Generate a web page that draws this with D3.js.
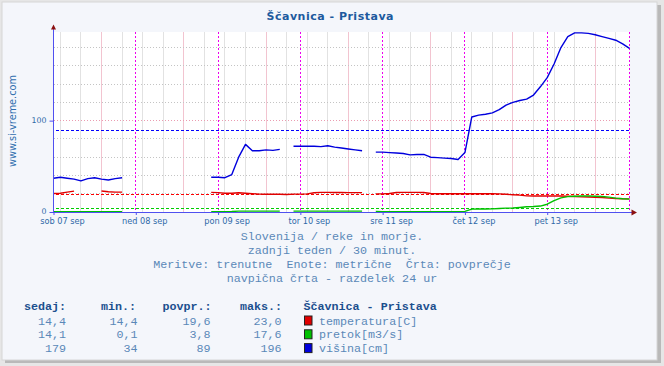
<!DOCTYPE html>
<meta charset="utf-8">
<style>

body {
  margin: 0;
}

text {
  font-family: "DejaVu Sans", sans-serif;
}

text.mono {
  font-family: "Liberation Mono", monospace;
  font-size: 11.7px;
  white-space: pre;
}

.tick line {
  stroke: #5050f0;
}

.tick text {
  fill: #2f6aa8;
}

</style>
<svg width="664" height="366"></svg>
<script src="https://cdn.jsdelivr.net/npm/d3@7"></script>
<script>

// one sample every 2 hours over the last week (0..168 h), null = no data
var hours = d3.range(0, 169, 2);

var visina = [37, 38, 37, 36, 34, 36.5, 37.5, 36, 35, 36.5, 37.5,
  null, null, null, null, null, null, null, null, null, null, null, null,
  38, 38, 37.5, 41, 60, 74, 67, 67, 68, 67.5, 68.5,
  null,
  72, 72, 72, 72, 71.5, 72.5, 71, 70, 69, 68, 67,
  null,
  65.5, 65.5, 65, 64.5, 64, 62.5, 63, 63, 60, 59.5, 59, 58.5, 57.5,
  65, 104, 106, 107, 108.5, 112, 117, 120, 122, 123.5, 128, 137, 147, 162,
  180, 192, 196, 196, 195.5, 194, 192, 190, 188, 184, 179];

var temperatura = [20.3, 20.5, 21.8, 22.8, null, null, null, 23, 22.2, 21.8, 21.8,
  null, null, null, null, null, null, null, null, null, null, null, null,
  21.5, 21.2, 20.5, 20.6, 21, 20.5, 20, 19.6, 19.5, 19.5, 19.5,
  19.2,
  19.6, 19.6, 19.8, 21, 21.5, 21.5, 21.4, 21.3, 21.2, 21.2, 21.2,
  null,
  19.8, 19.8, 20.2, 21.3, 21.5, 21.5, 21.5, 21.3, 20.2, 20, 20, 20, 20,
  20, 20, 20, 20, 20, 19.8, 19.5, 18.8, 18.5, 17.6, 17.5, 17.5, 17.5, 17.5,
  17.5, 17.3, 17, 16.5, 16.4, 16.2, 15.8, 15.2, 14.8, 14.5, 14.4];

var pretok = [0.2, 0.2, 0.2, 0.2, 0.2, 0.2, 0.2, 0.2, 0.2, 0.2, 0.2,
  null, null, null, null, null, null, null, null, null, null, null, null,
  0.3, 0.3, 0.4, 0.6, 1, 1, 1, 1, 1, 1, 1,
  null,
  1, 1, 1, 1, 1, 1, 1, 1, 1, 1, 1,
  null,
  0.5, 0.4, 0.4, 0.4, 0.4, 0.4, 0.4, 0.4, 0.4, 0.4, 0.4, 0.4, 0.4,
  0.6, 3.2, 3.3, 3.3, 3.4, 3.8, 4.2, 4.3, 5, 5.8, 6, 6.5, 8.5, 12.5,
  15.5, 16.8, 17.2, 17.5, 17.6, 17.3, 17, 16.3, 15.2, 14.5, 14.1];

var dayLabels = ["sob 07 sep", "ned 08 sep", "pon 09 sep", "tor 10 sep",
                 "sre 11 sep", "čet 12 sep", "pet 13 sep"];

var seriesNames = ["temperatura[C]", "pretok[m3/s]", "višina[cm]"];
var seriesColors = ["#e00000", "#00c000", "#0000dd"];
var averages = [19.6, 3.8, 89];
var nowVals = ["14,4", "14,1", "179"];
var minVals = ["14,4", "0,1", "34"];
var avgVals = ["19,6", "3,8", "89"];
var maxVals = ["23,0", "17,6", "196"];

var infoLines = ["Slovenija / reke in morje.",
                 "zadnji teden / 30 minut.",
                 "Meritve: trenutne  Enote: metrične  Črta: povprečje",
                 "navpična črta - razdelek 24 ur"];

var svg = d3.select("svg");

// frame
svg.append("rect").attr("width", 664).attr("height", 366).attr("fill", "#e6e6e6");
svg.append("rect").attr("x", 5).attr("y", 5).attr("width", 656).attr("height", 358).attr("fill", "#b9b9b9");
svg.append("rect").attr("x", 2).attr("y", 2).attr("width", 655).attr("height", 358)
    .attr("fill", "#f4f6fb").attr("stroke", "#d6d6d6");

var x = d3.scaleLinear().domain([0, 168]).range([53.5, 629.5]);
var y = d3.scaleLinear().domain([0, 197]).range([212, 32]);

function px(v) { return Math.round(v - 0.5) + 0.5; }

svg.append("rect")
    .attr("x", x(0)).attr("y", y(197))
    .attr("width", x(168) - x(0)).attr("height", y(0) - y(197))
    .attr("fill", "#ffffff");

var grid = svg.append("g").attr("shape-rendering", "crispEdges");

// vertical grid every 6 h, pink every 24 h
grid.selectAll(".vg")
  .data(d3.range(2, 168, 6))
  .enter().append("line")
    .attr("x1", function(d) { return px(x(d)); })
    .attr("x2", function(d) { return px(x(d)); })
    .attr("y1", y(197)).attr("y2", y(0))
    .attr("stroke", function(d) { return (d - 14) % 24 === 0 ? "#f2c4d0" : "#e2e2e2"; });

// horizontal grid
grid.selectAll(".hg")
  .data(d3.range(20, 197, 20))
  .enter().append("line")
    .attr("x1", x(0)).attr("x2", x(168))
    .attr("y1", function(d) { return px(y(d)); })
    .attr("y2", function(d) { return px(y(d)); })
    .attr("stroke", function(d) { return d === 100 ? "#eb9cb0" : "#c4c4c4"; })
    .attr("stroke-dasharray", "1,2");

// day separators
grid.selectAll(".day")
  .data(d3.range(24, 169, 24))
  .enter().append("line")
    .attr("x1", function(d) { return px(x(d)); })
    .attr("x2", function(d) { return px(x(d)); })
    .attr("y1", y(197)).attr("y2", y(0))
    .attr("stroke", "#ee00ee")
    .attr("stroke-dasharray", "2,2");

// average lines
grid.selectAll(".avg")
  .data(averages)
  .enter().append("line")
    .attr("x1", x(0) + 2).attr("x2", x(168))
    .attr("y1", function(d) { return px(y(d)); })
    .attr("y2", function(d) { return px(y(d)); })
    .attr("stroke", function(d, i) { return ["#ff0000", "#00cc00", "#0000ff"][i]; })
    .attr("stroke-dasharray", "3,2");

var line = d3.line()
    .defined(function(d) { return d != null; })
    .x(function(d, i) { return x(hours[i]); })
    .y(function(d) { return y(d); });

svg.selectAll(".series")
  .data([temperatura, pretok, visina])
  .enter().append("path")
    .attr("d", line)
    .attr("fill", "none")
    .attr("stroke", function(d, i) { return seriesColors[i]; })
    .attr("stroke-width", 1.4)
    .attr("stroke-linejoin", "round");

// axes
var xAxis = d3.axisBottom(x)
    .tickValues(d3.range(0, 145, 24))
    .tickFormat(function(d, i) { return dayLabels[i]; })
    .tickSize(3)
    .tickPadding(1);

var yAxis = d3.axisLeft(y)
    .tickValues([0, 100])
    .tickSize(4);

var gx = svg.append("g").attr("transform", "translate(0,212)").call(xAxis);
gx.select(".domain").remove();
gx.selectAll("text")
    .attr("font-size", 8.2)
    .attr("dx", 8.5)
    .attr("dy", "0.95em")
    .attr("font-family", "DejaVu Sans");

var gy = svg.append("g").attr("transform", "translate(53.5,0)").call(yAxis);
gy.select(".domain").remove();
gy.selectAll("text")
    .attr("font-size", 7.8)
    .attr("dy", "0.2em")
    .attr("font-family", "DejaVu Sans");

svg.append("line")
    .attr("x1", 53.5).attr("x2", 53.5).attr("y1", 212.5).attr("y2", 29)
    .attr("stroke", "#5050f0");
svg.append("line")
    .attr("x1", 53).attr("x2", 632).attr("y1", 212.5).attr("y2", 212.5)
    .attr("stroke", "#5050f0");
svg.append("path").attr("d", "M51,29.5L56,29.5L53.5,24.5Z").attr("fill", "#8b1010");
svg.append("path").attr("d", "M631.5,209.5L631.5,215.5L637,212.5Z").attr("fill", "#8b1010");

// title and side label
svg.append("text")
    .attr("x", 330).attr("y", 20)
    .attr("text-anchor", "middle")
    .attr("font-size", 11).attr("font-weight", "bold")
    .attr("fill", "#1d5a9e")
    .attr("textLength", 127).attr("lengthAdjust", "spacing")
    .text("Ščavnica - Pristava");

svg.append("text")
    .attr("transform", "translate(15.5,121) rotate(-90)")
    .attr("text-anchor", "middle")
    .attr("font-size", 10)
    .attr("fill", "#2f6eae")
    .attr("textLength", 92).attr("lengthAdjust", "spacingAndGlyphs")
    .text("www.si-vreme.com");

// info lines
svg.selectAll(".info")
  .data(infoLines)
  .enter().append("text")
    .attr("class", "mono")
    .attr("x", 332)
    .attr("y", function(d, i) { return 240 + i * 13.9; })
    .attr("text-anchor", "middle")
    .attr("fill", "#5a88b8")
    .text(function(d) { return d; });

// legend table
[["sedaj:", 24], ["min.:", 101], ["povpr.:", 162.5], ["maks.:", 240], ["Ščavnica - Pristava", 303.5]]
  .forEach(function(h) {
    svg.append("text").attr("class", "mono")
        .attr("font-weight", "bold")
        .attr("fill", "#1b4f8e")
        .attr("x", h[1]).attr("y", 310)
        .text(h[0]);
  });

var cols = [[nowVals, 66], [minVals, 137.5], [avgVals, 210.5], [maxVals, 281.5]];
seriesNames.forEach(function(name, i) {
  var yy = 324.5 + i * 13.8;
  cols.forEach(function(c) {
    svg.append("text").attr("class", "mono")
        .attr("x", c[1]).attr("y", yy)
        .attr("text-anchor", "end")
        .attr("fill", "#5a88b8")
        .text(c[0][i]);
  });
  svg.append("rect")
      .attr("x", 304.5).attr("y", yy - 8.5)
      .attr("width", 7.5).attr("height", 9)
      .attr("fill", seriesColors[i])
      .attr("stroke", "#222");
  svg.append("text").attr("class", "mono")
      .attr("x", 319).attr("y", yy)
      .attr("fill", "#5a88b8")
      .text(name);
});

</script>
